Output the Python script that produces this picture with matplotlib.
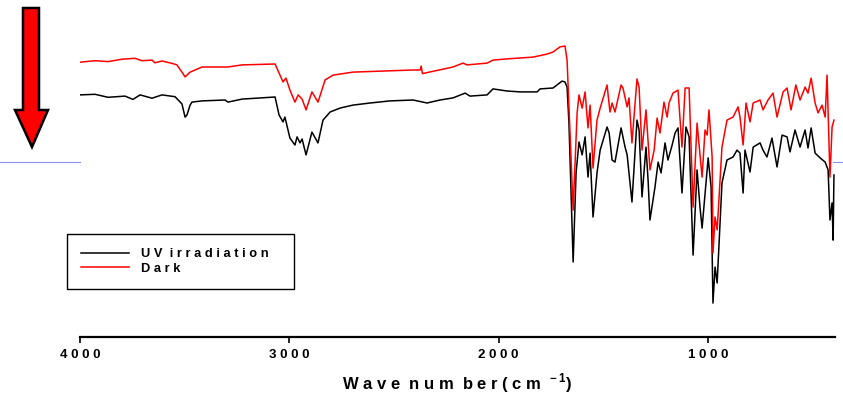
import matplotlib
matplotlib.use("Agg")
import matplotlib.pyplot as plt
from matplotlib.patches import Polygon
from matplotlib.lines import Line2D

plt.rcParams['font.family'] = ['Liberation Sans', 'DejaVu Sans']
plt.rcParams['mathtext.fontset'] = 'custom'
plt.rcParams['mathtext.rm'] = 'Liberation Sans:bold'
plt.rcParams['mathtext.bf'] = 'Liberation Sans:bold'

# FTIR spectra, transmittance in arbitrary units
uv_wn = [4000, 3928, 3866, 3785, 3747, 3713, 3656, 3608, 3546, 3513, 3498, 3489,
         3474, 3465, 3417, 3307, 3293, 3226, 3068, 3049, 3030, 3021, 2997, 2973,
         2963, 2949, 2939, 2920, 2892, 2863, 2839, 2805, 2758, 2696, 2614, 2519,
         2409, 2342, 2280, 2218, 2160, 2137, 2055, 2027, 1960, 1898, 1816, 1802,
         1740, 1697, 1683, 1673, 1664, 1644, 1630, 1616, 1601, 1587, 1573, 1563,
         1549, 1530, 1515, 1482, 1472, 1458, 1444, 1415, 1396, 1386, 1363, 1339,
         1329, 1315, 1296, 1286, 1277, 1253, 1238, 1224, 1205, 1191, 1171, 1157,
         1143, 1124, 1105, 1090, 1071, 1052, 1038, 1028, 999, 985, 976, 966,
         956, 933, 909, 880, 861, 847, 832, 823, 799, 784, 751, 737,
         718, 694, 670, 646, 622, 608, 584, 560, 536, 522, 507, 488,
         464, 440, 426, 417, 407, 402, 398]
uv_t = [80.7, 80.9, 79.9, 80.3, 79.2, 80.7, 79.6, 80.7, 80.1, 77.7, 73.3, 74.0,
        77.3, 78.3, 78.7, 79.0, 78.3, 79.3, 80.0, 74.0, 71.7, 73.3, 66.3, 64.0,
        66.7, 64.7, 66.0, 60.7, 68.3, 64.7, 72.3, 75.0, 76.3, 77.3, 78.0, 78.7,
        79.0, 78.0, 79.0, 79.7, 81.3, 80.3, 80.7, 82.7, 82.0, 81.7, 81.7, 82.7,
        83.0, 85.3, 85.0, 83.3, 71.3, 25.0, 54.7, 65.0, 60.7, 66.7, 53.3, 61.3,
        40.0, 54.7, 62.3, 70.0, 68.0, 59.0, 58.3, 69.7, 63.3, 60.7, 45.0, 72.3,
        69.0, 46.7, 63.3, 52.3, 39.0, 50.0, 58.3, 54.7, 64.7, 59.0, 64.0, 68.0,
        69.7, 48.0, 70.0, 66.7, 27.3, 55.7, 43.3, 36.3, 59.7, 50.0, 11.3, 23.3,
        18.0, 51.3, 59.0, 60.0, 62.3, 61.3, 48.0, 62.3, 55.0, 63.3, 64.7, 62.3,
        60.0, 66.3, 56.7, 67.3, 66.7, 61.7, 69.0, 63.3, 69.0, 63.0, 69.7, 61.3,
        59.7, 58.3, 55.7, 39.0, 44.7, 32.3, 54.0]

dark_wn = [4000, 3928, 3866, 3799, 3737, 3704, 3656, 3642, 3608, 3560, 3537, 3513,
           3498, 3474, 3417, 3293, 3226, 3068, 3049, 3030, 3016, 2997, 2973, 2958,
           2939, 2920, 2892, 2863, 2829, 2791, 2696, 2533, 2409, 2375, 2370, 2364,
           2218, 2170, 2151, 2055, 2027, 1960, 1898, 1836, 1769, 1740, 1707, 1683,
           1673, 1664, 1644, 1625, 1616, 1601, 1587, 1573, 1563, 1549, 1530, 1515,
           1482, 1468, 1458, 1444, 1415, 1406, 1386, 1377, 1363, 1339, 1329, 1315,
           1296, 1277, 1257, 1243, 1229, 1210, 1195, 1186, 1167, 1143, 1124, 1109,
           1090, 1071, 1052, 1028, 1014, 1004, 995, 980, 976, 966, 956, 933,
           909, 880, 856, 847, 832, 818, 799, 784, 751, 737, 713, 689,
           670, 641, 622, 603, 580, 560, 536, 522, 507, 488, 474, 455,
           440, 431, 417, 407, 398]
dark_t = [91.6, 92.1, 91.8, 92.6, 92.9, 92.1, 92.3, 91.4, 92.0, 91.2, 90.7, 88.3,
          86.7, 88.3, 90.0, 90.0, 90.7, 91.0, 88.0, 85.0, 86.3, 82.3, 78.3, 80.7,
          79.3, 75.7, 81.7, 78.3, 85.7, 87.3, 88.3, 88.7, 89.0, 89.0, 90.3, 87.8,
          90.0, 91.3, 90.7, 91.3, 92.3, 92.7, 93.0, 93.3, 94.3, 95.0, 96.7, 97.0,
          92.3, 76.7, 42.3, 74.7, 80.7, 76.3, 81.7, 69.7, 77.3, 56.3, 72.3, 76.3,
          84.0, 75.0, 78.0, 75.0, 84.0, 83.0, 76.7, 79.7, 64.7, 86.0, 83.3, 62.3,
          75.7, 55.7, 62.3, 73.0, 68.0, 78.3, 73.3, 78.0, 81.3, 82.3, 63.3, 83.0,
          83.0, 43.3, 71.3, 53.3, 69.0, 67.3, 75.7, 60.0, 28.0, 40.0, 35.7, 63.3,
          72.3, 73.3, 76.7, 73.3, 64.0, 78.0, 71.7, 78.0, 79.0, 75.7, 79.0, 81.3,
          73.3, 81.7, 83.0, 75.7, 84.0, 79.0, 83.3, 81.3, 86.3, 78.0, 74.7, 77.3,
          73.3, 87.3, 53.3, 70.0, 72.3]

tick_pos = [4000, 3000, 2000, 1000]
tick_labels = ["4 0 0 0", "3 0 0 0", "2 0 0 0", "1 0 0 0"]

W, H = 843, 399
fig = plt.figure(figsize=(W / 100, H / 100), dpi=100)

# faint blue guide line peeking out on both sides of the plot
fig.add_artist(Line2D([0, 80 / W], [1 - 162 / H] * 2, color='#8c8cff', lw=0.8))
fig.add_artist(Line2D([833 / W, 1], [1 - 162 / H] * 2, color='#8c8cff', lw=0.8))

ax = fig.add_axes([80 / W, 1 - 337 / H, 755 / W, 300 / H])
ax.plot(uv_wn, uv_t, color='black', lw=1.1, label="U V  i r r a d i a t i o n   ")
ax.plot(dark_wn, dark_t, color='red', lw=1.1, label="D a r k")

ax.set_xlim(4000, 393)
ax.set_ylim(0, 100)
for s in ['top', 'right', 'left']:
    ax.spines[s].set_visible(False)
ax.spines['bottom'].set_linewidth(1.6)
ax.set_yticks([])
ax.set_xticks(tick_pos)
ax.set_xticklabels(tick_labels, fontweight='bold', fontsize=9.5)
ax.tick_params(axis='x', direction='out', length=4, width=1.2, pad=5)
ax.set_xlabel("W a v e  n u m  b e r ( c m $^{\\,-1}$)", fontweight='bold',
              fontsize=12, labelpad=7)

leg = ax.legend(loc='upper left', bbox_to_anchor=(67 / W, 1 - 234 / H),
                bbox_transform=fig.transFigure, borderaxespad=0,
                fancybox=False, edgecolor='black', framealpha=1,
                prop={'weight': 'bold', 'size': 9.3},
                handlelength=3.7, handletextpad=0.95, borderpad=1.1,
                labelspacing=0.2)
leg.get_frame().set_linewidth(1.0)

# red down arrow at the top left
arrow_px = [(23, 8), (39, 8), (39, 110), (48, 110), (32, 147),
            (15, 110), (23, 110)]
arrow = Polygon([(x / W, 1 - y / H) for x, y in arrow_px], closed=True,
                facecolor='#ff0000', edgecolor='black', lw=1.8,
                transform=fig.transFigure)
fig.add_artist(arrow)

fig.savefig("out.png", dpi=100)
